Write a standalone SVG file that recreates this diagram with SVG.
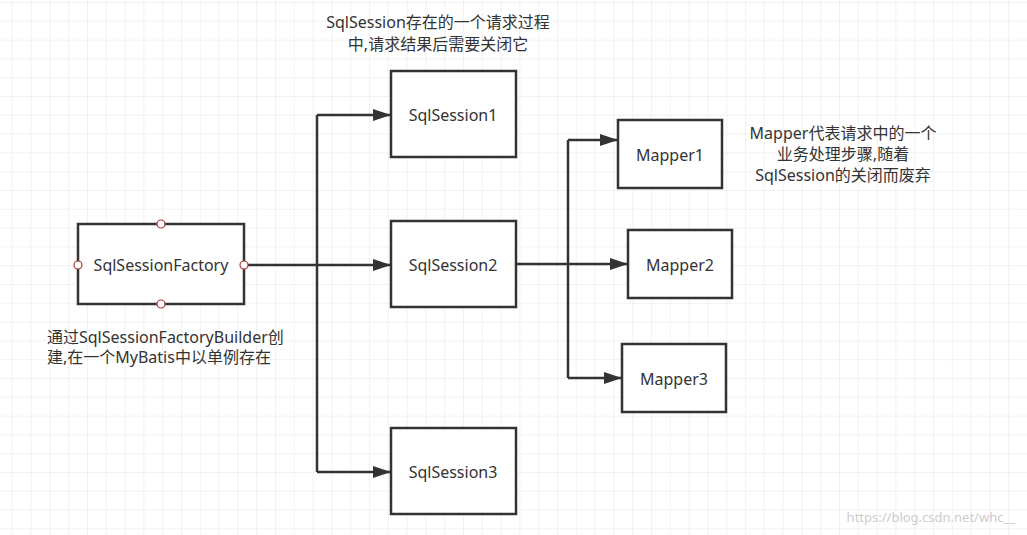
<svg xmlns="http://www.w3.org/2000/svg" width="1027" height="535" viewBox="0 0 1027 535">
<defs>
<pattern id="g" width="18.8" height="18.8" patternUnits="userSpaceOnUse" x="-6" y="3"><path d="M18.8 0V18.8M0 18.8H18.8" fill="none" stroke="#e6e6e6" stroke-width="1"/></pattern>
<marker id="a" markerWidth="18" markerHeight="12" refX="17" refY="6" orient="auto" markerUnits="userSpaceOnUse"><path d="M0 0L18 6L0 12Z" fill="#333"/></marker>
</defs>
<style>
.b{fill:#fff;stroke:#333;stroke-width:2.5}
.t{font-family:"Noto Sans","Noto Sans CJK SC",sans-serif;font-size:16px;fill:#333}
.m{text-anchor:middle}
.c{fill:none;stroke:#333;stroke-width:2.5}
.p{fill:#fff;stroke:#a33;stroke-width:1.2}
</style>
<rect width="1027" height="535" fill="#fff"/>
<rect width="1027" height="535" fill="url(#g)"/>
<g id="connectors">
<path class="c" d="M244 265H317M317 115V472"/>
<path class="c" marker-end="url(#a)" d="M317 115H390"/>
<path class="c" marker-end="url(#a)" d="M317 265H390"/>
<path class="c" marker-end="url(#a)" d="M317 472H390"/>
<path class="c" d="M516 264H568M568 140V378"/>
<path class="c" marker-end="url(#a)" d="M568 140H617"/>
<path class="c" marker-end="url(#a)" d="M568 264H627"/>
<path class="c" marker-end="url(#a)" d="M568 378H621"/>
</g>
<g id="factory"><rect class="b" x="78" y="224" width="166" height="80"/><text class="t m" x="161" y="271">SqlSessionFactory</text>
<circle class="p" cx="161" cy="224" r="4"/><circle class="p" cx="161" cy="304" r="4"/><circle class="p" cx="78" cy="265" r="4"/><circle class="p" cx="244" cy="265" r="4"/></g>
<g id="s1"><rect class="b" x="391" y="71" width="125" height="86"/><text class="t m" x="453" y="121">SqlSession1</text></g>
<g id="s2"><rect class="b" x="391" y="221" width="125" height="86"/><text class="t m" x="453" y="271">SqlSession2</text></g>
<g id="s3"><rect class="b" x="391" y="428" width="125" height="86"/><text class="t m" x="453" y="478">SqlSession3</text></g>
<g id="m1"><rect class="b" x="618" y="120" width="104" height="68"/><text class="t m" x="670" y="161">Mapper1</text></g>
<g id="m2"><rect class="b" x="628" y="230" width="104" height="68"/><text class="t m" x="680" y="271">Mapper2</text></g>
<g id="m3"><rect class="b" x="622" y="344" width="104" height="68"/><text class="t m" x="674" y="385">Mapper3</text></g>
<g id="labels">
<text class="t m" x="438" y="28">SqlSession存在的一个请求过程</text>
<text class="t m" x="438" y="50">中,请求结果后需要关闭它</text>
<text class="t" x="47" y="343">通过SqlSessionFactoryBuilder创</text>
<text class="t" x="47" y="363">建,在一个MyBatis中以单例存在</text>
<text class="t m" x="843" y="139">Mapper代表请求中的一个</text>
<text class="t m" x="843" y="160">业务处理步骤,随着</text>
<text class="t m" x="843" y="181">SqlSession的关闭而废弃</text>
<text x="1015" y="522" text-anchor="end" font-family="Noto Sans,sans-serif" font-size="13" fill="#ccc">https://blog.csdn.net/whc__</text>
</g>
</svg>
